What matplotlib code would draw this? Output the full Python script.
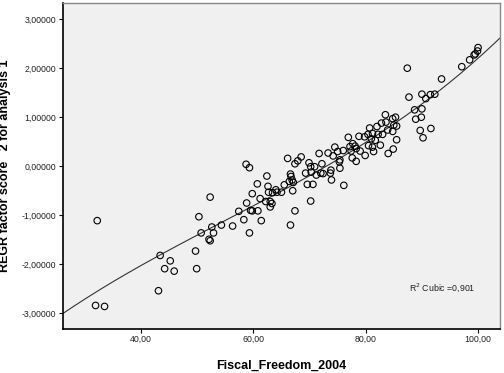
import numpy as np
import matplotlib
matplotlib.use("Agg")
import matplotlib.pyplot as plt
from matplotlib.ticker import FuncFormatter

# Fiscal_Freedom_2004 vs REGR factor score 2
fiscal = [32.2, 31.9, 33.5, 43.4, 43.1, 44.2, 45.2, 45.9, 49.7, 49.9,
          50.3, 50.7, 52.3, 52.1, 52.3, 52.6, 52.9, 54.3, 56.3, 57.4,
          58.3, 58.7, 59.3, 58.8, 59.3, 59.8, 59.5, 59.8, 60.7, 60.8,
          61.2, 61.4, 62.4, 62.2, 62.6, 62.7, 63.0, 63.0, 63.4, 63.3,
          64.0, 64.2, 65.0, 65.5, 66.1, 66.4, 66.6, 66.7, 66.9, 67.1,
          67.0, 66.6, 67.4, 67.4, 67.9, 68.5, 69.3, 69.6, 69.9, 70.2,
          70.3, 70.6, 70.2, 70.9, 71.2, 71.7, 72.0, 72.2, 72.4, 73.3,
          73.7, 73.8, 73.9, 74.2, 74.5, 75.0, 75.3, 75.4, 75.4, 76.0,
          76.1, 76.9, 77.2, 77.4, 77.6, 77.7, 78.1, 78.3, 78.3, 78.8,
          79.0, 79.8, 79.9, 80.4, 80.5, 80.7, 81.0, 81.2, 81.4, 81.2,
          81.7, 82.0, 82.2, 82.6, 82.8, 83.0, 83.5, 83.6, 83.9, 84.0,
          84.8, 85.0, 84.9, 84.8, 85.3, 85.5, 85.5, 87.4, 87.7, 88.7,
          88.9, 89.7, 89.9, 90.0, 90.0, 90.2, 90.7, 91.5, 91.6, 92.3,
          93.5, 97.1, 98.5, 99.3, 99.5, 99.9, 100.0]
score = [-1.11, -2.84, -2.86, -1.82, -2.54, -2.09, -1.93, -2.14, -1.73, -2.09,
         -1.03, -1.36, -0.63, -1.49, -1.52, -1.24, -1.36, -1.20, -1.22, -0.92,
         -1.09, 0.04, -0.03, -0.75, -1.36, -0.56, -0.90, -0.91, -0.36, -0.91,
         -0.66, -1.11, -0.20, -0.72, -0.41, -0.53, -0.72, -0.83, -0.54, -0.76,
         -0.48, -0.53, -0.53, -0.38, 0.16, -0.31, -0.16, -0.21, -0.28, -0.33,
         -0.50, -1.20, -0.91, 0.05, 0.11, 0.19, -0.14, -0.37, 0.07, -0.01,
         -0.12, -0.37, -0.71, -0.01, -0.18, 0.26, -0.14, 0.05, -0.15, 0.27,
         -0.14, -0.08, -0.28, 0.21, 0.39, 0.30, 0.09, -0.04, 0.13, 0.32,
         -0.39, 0.59, 0.40, 0.31, 0.17, 0.46, 0.41, 0.10, 0.36, 0.61,
         0.31, 0.60, 0.22, 0.65, 0.42, 0.78, 0.56, 0.39, 0.30, 0.67,
         0.53, 0.81, 0.65, 0.43, 0.88, 0.65, 1.05, 0.90, 0.74, 0.26,
         0.97, 0.84, 0.35, 0.71, 1.00, 0.82, 0.54, 2.00, 1.41, 1.15,
         0.96, 0.73, 1.00, 1.17, 1.47, 0.58, 1.38, 1.46, 0.77, 1.47,
         1.78, 2.03, 2.17, 2.27, 2.29, 2.35, 2.42]

x_ticks = [40, 60, 80, 100]
y_ticks = [-3, -2, -1, 0, 1, 2, 3]
r2_text = "R$^2$ Cubic =0,901"

plt.rcParams['font.family'] = ['Liberation Sans', 'DejaVu Sans']

fig = plt.figure(figsize=(5.04, 3.73), dpi=100)
ax = fig.add_axes([0.1244, 0.118, 0.8676, 0.874])
ax.set_facecolor('#f0f0f0')

ax.scatter(fiscal, score, s=22, facecolors='none', edgecolors='black',
           linewidths=0.8, zorder=3)

# cubic fit
xmin, xmax = 26.05, 103.9
coef = np.polyfit(fiscal, score, 3)
xs = np.linspace(xmin, xmax, 200)
ax.plot(xs, np.polyval(coef, xs), color='#333333', linewidth=0.8, zorder=2)

ax.set_xlim(xmin, xmax)
ax.set_ylim(-3.32, 3.33)
ax.set_xticks(x_ticks)
ax.set_yticks(y_ticks)
ax.xaxis.set_major_formatter(FuncFormatter(lambda v, p: f"{v:.2f}".replace('.', ',')))
ax.yaxis.set_major_formatter(FuncFormatter(lambda v, p: f"{v:.5f}".replace('.', ',')))
ax.tick_params(direction='out', length=3, width=0.8, labelsize=6.3, colors='black',
               labelcolor='#222222', pad=1.5)

for side in ['left', 'bottom']:
    ax.spines[side].set_color('black')
    ax.spines[side].set_linewidth(1.2)
for side in ['top', 'right']:
    ax.spines[side].set_color('#888888')
    ax.spines[side].set_linewidth(1.0)

ax.set_xlabel("Fiscal_Freedom_2004", fontsize=9, fontweight='bold')
ax.set_ylabel("REGR factor score   2 for analysis 1", fontsize=9, fontweight='bold')
ax.xaxis.set_label_coords(0.5, -0.095)
ax.yaxis.set_label_coords(-0.119, 0.5)

ax.text(93.6, -2.47, r2_text, fontsize=6.3, ha='center', va='center', color='#222222')

fig.savefig("out.png", dpi=100)
